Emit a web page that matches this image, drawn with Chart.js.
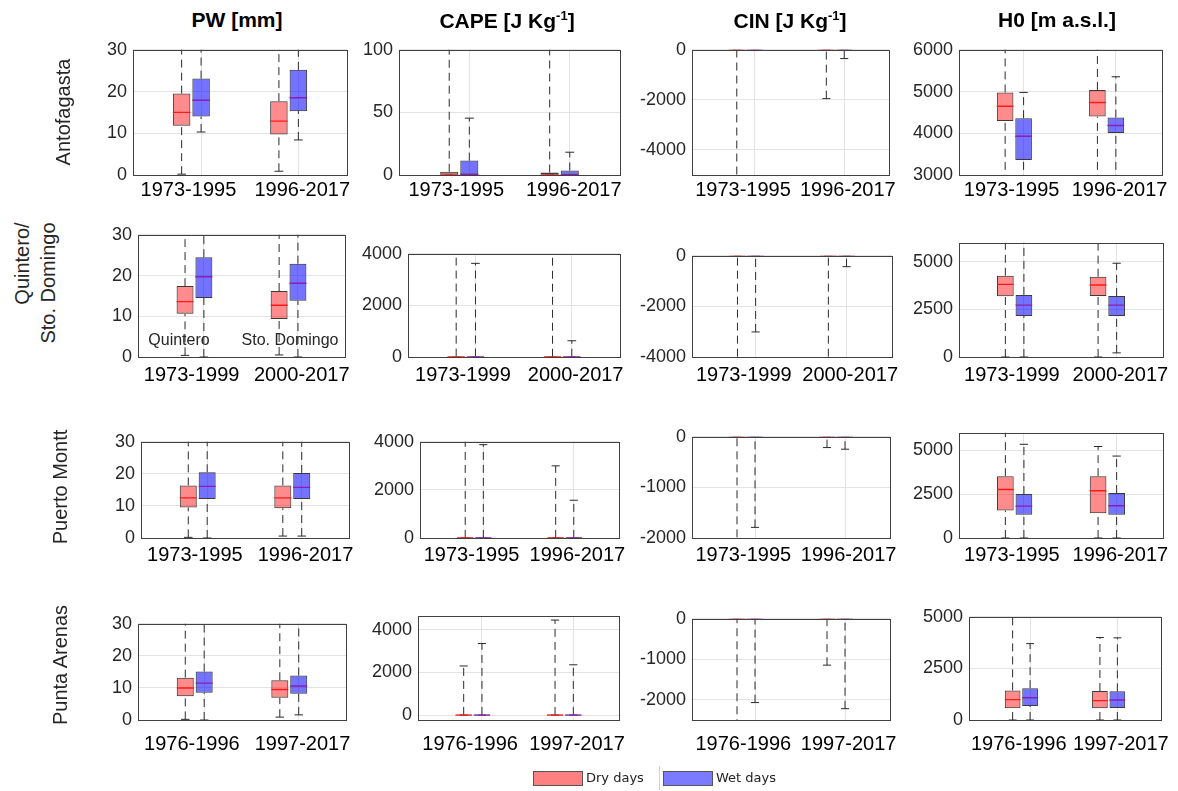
<!DOCTYPE html>
<html>
<head>
<meta charset="utf-8">
<script src="https://cdn.jsdelivr.net/npm/chart.js@4.4.1/dist/chart.umd.min.js"></script>
<style>
  body { margin: 0; background: #fff; width: 1178px; height: 791px; position: relative; overflow: hidden;
         font-family: "Liberation Sans", Arial, Helvetica, sans-serif; }
  canvas { position: absolute; }
  .title { position: absolute; top: 8px; font-weight: bold; font-size: 21px; transform: translateX(-50%); white-space: nowrap; color: #000; }
  .title sup { font-size: 13px; }
  .station { position: absolute; font-size: 20px; color: #262626; white-space: nowrap; line-height: 26px;
             transform: translate(-50%, -50%) rotate(-90deg); text-align: right; }
  .note { position: absolute; font-size: 16px; color: #262626; transform: translate(-50%, -50%); white-space: nowrap; }
  .legend { position: absolute; top: 766px; left: 528px; height: 24px; font-family: "DejaVu Sans", Verdana, sans-serif; font-size: 13px; color: #222; }
  .sw { position: absolute; top: 5px; width: 48px; height: 13px; border: 1px solid #555; }
  .lt { position: absolute; top: 4px; white-space: nowrap; }
</style>
</head>
<body>
<script>
// ---- données : [min, q1, médiane, q3, max] par période ----
const stations = ['Antofagasta', 'Quintero/<br>Sto. Domingo', 'Puerto Montt', 'Punta Arenas'];
const periods = [
  ['1973-1995', '1996-2017'],
  ['1973-1999', '2000-2017'],
  ['1973-1995', '1996-2017'],
  ['1976-1996', '1997-2017']
];
const titles = ['PW [mm]', 'CAPE [J Kg<sup>-1</sup>]', 'CIN [J Kg<sup>-1</sup>]', 'H0 [m a.s.l.]'];

const pwDry = [
  [[0.2, 11.8, 15.0, 19.5, 31.5], [0.9, 9.7, 12.9, 17.7, 31]],
  [[0.4, 10.6, 13.6, 17.4, 32], [0.5, 9.3, 12.7, 16.2, 32]],
  [[0.2, 9.5, 12.5, 16.4, 32], [0.6, 9.3, 12.5, 16.4, 32]],
  [[0.2, 7.4, 10.0, 13.2, 32], [0.9, 6.9, 9.5, 12.4, 32]]
];
const pwWet = [
  [[10.3, 14.0, 17.9, 23.1, 37], [8.4, 15.3, 18.5, 25.2, 40]],
  [[0, 14.5, 19.7, 24.5, 40], [0, 13.8, 18.1, 22.9, 37]],
  [[0, 12.2, 16.1, 20.5, 33], [0.6, 12.2, 15.8, 20.3, 33]],
  [[0, 8.5, 11.5, 15.1, 32], [1.6, 8.2, 10.6, 13.9, 32]]
];
const capeDry = [
  [[0, 0, 0, 2.6, 150], [0, 0, 0, 2.0, 150]],
  [[0, 0, 0, 15, 4500], [0, 0, 0, 10, 4500]],
  [[0, 0, 0, 5, 4100], [0, 0, 0, 5, 3000]],
  [[0, 0, 0, 10, 2300], [0, 0, 0, 10, 4450]]
];
const capeWet = [
  [[0, 0, 0.5, 11.5, 45.4], [0, 0, 0.3, 3.6, 18.2]],
  [[0, 0, 0, 20, 3630], [0, 0, 0, 10, 630]],
  [[0, 0, 0, 5, 3880], [0, 0, 0, 5, 1570]],
  [[0, 0, 0, 10, 3350], [0, 0, 0, 10, 2355]]
];
const cinDry = [
  [[-5500, -5, 0, 0, 0], [-1950, -5, 0, 0, 0]],
  [[-4500, -5, 0, 0, 0], [-4500, -5, 0, 0, 0]],
  [[-2500, -2, 0, 0, 0], [-213, -2, 0, 0, 0]],
  [[-3000, -2, 0, 0, 0], [-1145, -2, 0, 0, 0]]
];
const cinWet = [
  [[-30, -2, 0, 0, 0], [-350, -2, 0, 0, 0]],
  [[-3010, -5, 0, 0, 0], [-430, -5, 0, 0, 0]],
  [[-1790, -2, 0, 0, 0], [-245, -2, 0, 0, 0]],
  [[-2070, -2, 0, 0, 0], [-2220, -2, 0, 0, 0]]
];
const h0Dry = [
  [[2500, 4292, 4646, 4978, 6500], [2500, 4400, 4738, 5038, 6500]],
  [[0, 3190, 3815, 4270, 6500], [0, 3210, 3782, 4220, 6500]],
  [[0, 1564, 2764, 3527, 6500], [0, 1418, 2691, 3527, 5218]],
  [[0, 571, 988, 1435, 5100], [0, 571, 941, 1404, 3997]]
];
const h0Wet = [
  [[2500, 3362, 3930, 4362, 4978], [2500, 4008, 4185, 4377, 5354]],
  [[0, 2153, 2723, 3262, 6500], [217, 2153, 2723, 3210, 4926]],
  [[0, 1327, 1818, 2509, 5345], [0, 1327, 1836, 2564, 4673]],
  [[0, 679, 1080, 1543, 3700], [0, 586, 972, 1389, 3981]]
];

// limites et graduations des axes y
const pwRange = [[0, 30], [0, 30], [0, 30], [0, 30]];
const capeRange = [[0, 100], [0, 4000], [0, 4000], [-230, 4650]];
const cinRange = [[-5000, 0], [-4000, 0], [-2000, 0], [-2500, 0]];
const h0Range = [[3000, 6000], [0, 6000], [0, 6000], [0, 5000]];
const pwTicks = [[0, 10, 20, 30], [0, 10, 20, 30], [0, 10, 20, 30], [0, 10, 20, 30]];
const capeTicks = [[0, 50, 100], [0, 2000, 4000], [0, 2000, 4000], [0, 2000, 4000]];
const cinTicks = [[-4000, -2000, 0], [-4000, -2000, 0], [-2000, -1000, 0], [-2000, -1000, 0]];
const h0Ticks = [[3000, 4000, 5000, 6000], [0, 2500, 5000], [0, 2500, 5000], [0, 2500, 5000]];

// ---- mise en page ----
const columns = [
  { dry: pwDry, wet: pwWet, range: pwRange, ticks: pwTicks },
  { dry: capeDry, wet: capeWet, range: capeRange, ticks: capeTicks },
  { dry: cinDry, wet: cinWet, range: cinRange, ticks: cinTicks },
  { dry: h0Dry, wet: h0Wet, range: h0Range, ticks: h0Ticks }
];
// zone de tracé [x, y, largeur, hauteur] de chaque panneau
const panelBox = [
  [[133, 45, 214, 130], [399, 45, 221, 130], [692, 45, 197, 130], [959, 45, 203, 130]],
  [[138, 230, 207, 127], [408, 249, 212, 108], [692, 251, 200, 106], [959, 238, 204, 119]],
  [[141, 437, 208, 101], [420, 437, 199, 101], [692, 432, 198, 106], [959, 428, 204, 110]],
  [[138, 619, 208, 101], [418, 611, 201, 109], [692, 614, 198, 106], [969, 612, 192, 108]]
];
const labelGap = [15, 18, 17, 24];
const groupX = [1, 2];
const labelX = [0.97, 2.14];
const titleX = [237, 507, 790, 1057];
const stationPos = [[63, 112], [35, 283], [60, 487], [60, 665]];

Chart.defaults.font.family = '"Liberation Sans", Arial, Helvetica, sans-serif';

const framePlugin = {
  id: 'frame',
  afterDraw(chart) {
    const a = chart.chartArea, ctx = chart.ctx;
    ctx.save();
    ctx.strokeStyle = '#404040';
    ctx.lineWidth = 1;
    ctx.strokeRect(Math.round(a.left) + 0.5, Math.round(a.top) + 0.5, Math.round(a.right - a.left), Math.round(a.bottom - a.top));
    const o = chart.options.plugins.frame;
    ctx.font = '20px "Liberation Sans", Arial, sans-serif';
    ctx.fillStyle = '#000';
    ctx.textAlign = 'center';
    ctx.textBaseline = 'middle';
    o.labels.forEach((t, i) => {
      ctx.fillText(t, chart.scales.x.getPixelForValue(labelX[i]), a.bottom + o.gap);
    });
    ctx.restore();
  }
};

function buildPanel(r, c) {
  const [px, py, pw, ph] = panelBox[r][c];
  const canvas = document.createElement('canvas');
  canvas.width = pw + 100;
  canvas.height = ph + 52;
  canvas.style.left = (px - 70) + 'px';
  canvas.style.top = (py - 12) + 'px';
  document.body.appendChild(canvas);

  const col = columns[c];
  const series = [
    { stats: col.dry[r], dx: -0.1, fill: 'rgba(255,0,0,0.45)', med: '#ff1a1a' },
    { stats: col.wet[r], dx: 0.1, fill: 'rgba(0,0,255,0.55)', med: '#8a1fb0' }
  ];
  const datasets = [];
  series.forEach(s => {
    const xs = groupX.map(g => g + s.dx);
    datasets.push({
      type: 'bar',
      data: xs.map((x, i) => ({ x: x, y: [s.stats[i][1], s.stats[i][3]] })),
      backgroundColor: s.fill, borderColor: '#3a3a3a', borderWidth: 1, borderSkipped: false,
      grouped: false, barPercentage: 0.9, categoryPercentage: 1, order: 2
    });
    const wh = [], caps = [], meds = [];
    xs.forEach((x, i) => {
      const [lo, q1, med, q3, hi] = s.stats[i];
      wh.push({ x, y: lo }, { x, y: q1 }, { x, y: null }, { x, y: q3 }, { x, y: hi }, { x, y: null });
      caps.push({ x: x - 0.045, y: hi }, { x: x + 0.045, y: hi }, { x, y: null },
                { x: x - 0.045, y: lo }, { x: x + 0.045, y: lo }, { x, y: null });
      meds.push({ x: x - 0.09, y: med }, { x: x + 0.09, y: med }, { x, y: null });
    });
    datasets.push({ type: 'line', data: wh, borderColor: '#2b2b2b', borderWidth: 1, borderDash: [8, 5],
                    pointRadius: 0, spanGaps: false, order: 3 });
    datasets.push({ type: 'line', data: caps, borderColor: '#2b2b2b', borderWidth: 1,
                    pointRadius: 0, spanGaps: false, order: 3 });
    datasets.push({ type: 'line', data: meds, borderColor: s.med, borderWidth: 1.4,
                    pointRadius: 0, spanGaps: false, order: 1 });
  });

  new Chart(canvas.getContext('2d'), {
    type: 'bar',
    data: { datasets },
    plugins: [framePlugin],
    options: {
      responsive: false,
      animation: false,
      devicePixelRatio: 1,
      layout: { padding: { top: 12, right: 30, bottom: 40, left: 0 } },
      plugins: {
        legend: { display: false },
        tooltip: { enabled: false },
        frame: { labels: periods[r], gap: labelGap[r] }
      },
      scales: {
        x: {
          type: 'linear', min: 0.4, max: 2.6, offset: false,
          grid: { offset: false, color: '#e3e3e3', drawTicks: false },
          border: { display: false },
          ticks: { display: false },
          afterBuildTicks: s => { s.ticks = groupX.map(g => ({ value: g + 0.1 })); },
          afterFit: s => { s.height = 0; }
        },
        y: {
          min: col.range[r][0], max: col.range[r][1],
          grid: { color: '#e3e3e3', drawTicks: false },
          border: { display: false },
          ticks: { color: '#262626', font: { size: 18 }, padding: 6, callback: v => String(v) },
          afterBuildTicks: s => { s.ticks = col.ticks[r].map(v => ({ value: v })); },
          afterFit: s => { s.width = 70; }
        }
      }
    }
  });
}

for (let r = 0; r < 4; r++) {
  for (let c = 0; c < 4; c++) buildPanel(r, c);
}

// titres de colonnes
titles.forEach((t, i) => {
  const d = document.createElement('div');
  d.className = 'title';
  d.style.left = titleX[i] + 'px';
  d.innerHTML = t;
  document.body.appendChild(d);
});
// noms des stations
stations.forEach((s, i) => {
  const d = document.createElement('div');
  d.className = 'station';
  d.style.left = stationPos[i][0] + 'px';
  d.style.top = stationPos[i][1] + 'px';
  d.innerHTML = s;
  document.body.appendChild(d);
});
</script>
<div class="note" style="left:179px; top:340px;">Quintero</div>
<div class="note" style="left:290px; top:340px;">Sto. Domingo</div>
<div class="legend">
  <div class="sw" style="left:5px; background:#ff8080;"></div>
  <div class="lt" style="left:58px;">Dry days</div>
  <div style="position:absolute; left:131px; top:0; width:1px; height:24px; background:#d0d0d0;"></div>
  <div class="sw" style="left:135px; background:#7b7bff;"></div>
  <div class="lt" style="left:188px;">Wet days</div>
</div>
</body>
</html>
